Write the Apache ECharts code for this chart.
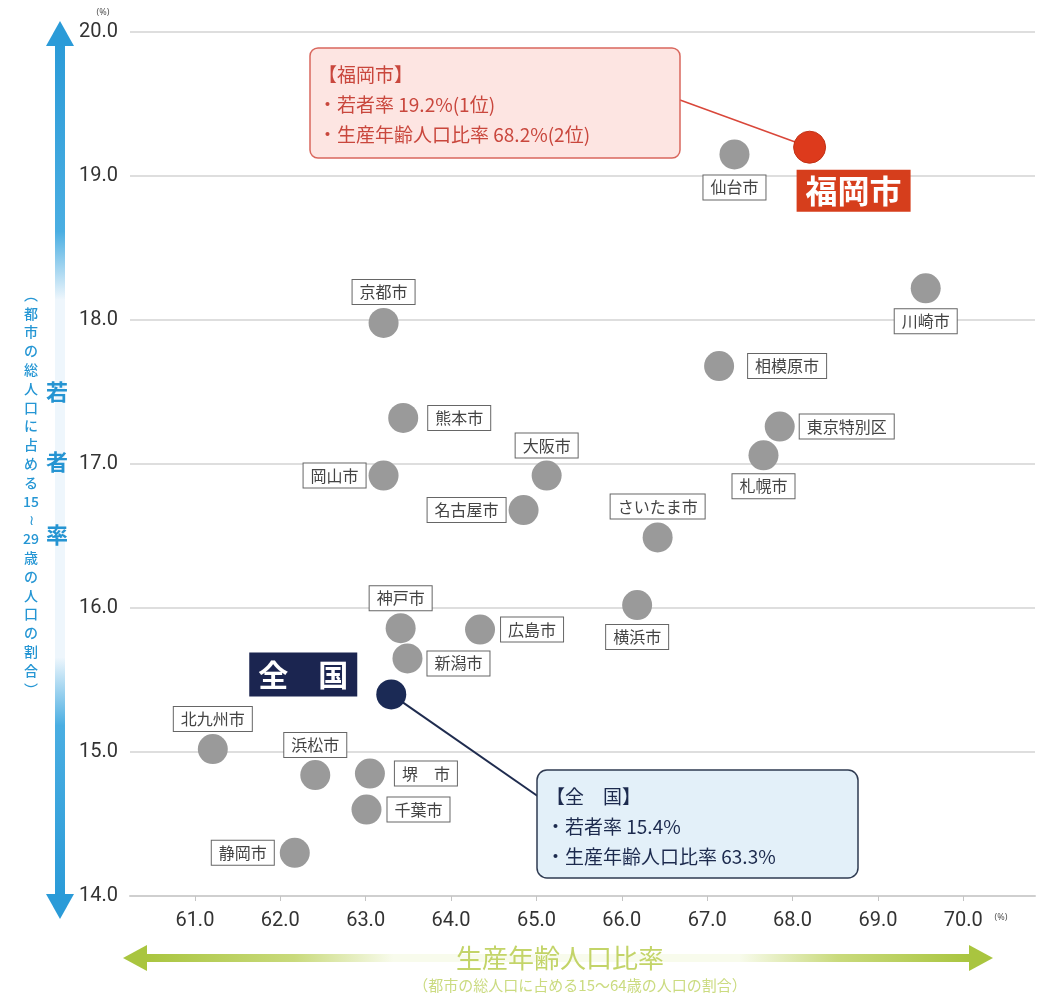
<!DOCTYPE html>
<html>
<head>
<meta charset="utf-8">
<script src="https://cdn.jsdelivr.net/npm/echarts@6/dist/echarts.min.js"></script>
<style>
  html, body { margin: 0; padding: 0; background: #ffffff; }
  #chart { width: 1044px; height: 994px; }
</style>
</head>
<body>
<div id="chart"></div>
<script>
// 政令指定都市ごとの生産年齢人口比率（x, %）と若者率（y, %）
const cityNames = ['仙台市', '川崎市', '京都市', '相模原市', '熊本市', '東京特別区', '札幌市', '岡山市', '大阪市', '名古屋市',
                   'さいたま市', '横浜市', '神戸市', '広島市', '新潟市', '北九州市', '浜松市', '堺　市', '千葉市', '静岡市'];
const cityWorkingAgeRate = [67.32, 69.56, 63.21, 67.14, 63.44, 67.85, 67.66, 63.21, 65.12, 64.85,
                            66.42, 66.18, 63.41, 64.34, 63.49, 61.21, 62.41, 63.05, 63.01, 62.17];
const cityYouthRate = [19.15, 18.22, 17.98, 17.68, 17.32, 17.26, 17.06, 16.92, 16.92, 16.68,
                       16.49, 16.02, 15.86, 15.85, 15.65, 15.02, 14.84, 14.85, 14.60, 14.30];

const fukuokaName = '福岡市';
const fukuokaWorkingAgeRate = 68.2;
const fukuokaYouthRate = 19.2;
const fukuokaYouthRank = 1;
const fukuokaWorkingAgeRank = 2;

const nationalName = '全　国';
const nationalWorkingAgeRate = 63.3;
const nationalYouthRate = 15.4;

const xTickValues = [61, 62, 63, 64, 65, 66, 67, 68, 69, 70];

const yTitle = '若者率';
const yNote = ['︵', '都', '市', 'の', '総', '人', '口', 'に', '占', 'め', 'る', '15', '≀', '29', '歳', 'の', '人', '口', 'の', '割', '合', '︶'];
const xTitle = '生産年齢人口比率';
const xNote = '（都市の総人口に占める15～64歳の人口の割合）';

// ラベルの置き場所（点に対する向きと間隔）
const labelPlacement = {
  '仙台市': { position: 'bottom', distance: 6 },
  '川崎市': { position: 'bottom', distance: 6 },
  '京都市': { position: 'top', distance: 4 },
  '相模原市': { position: 'right', distance: 14 },
  '熊本市': { position: 'right', distance: 10 },
  '東京特別区': { position: 'right', distance: 5 },
  '札幌市': { position: 'bottom', distance: 4 },
  '岡山市': { position: 'left', distance: 3 },
  '大阪市': { position: 'top', distance: 3 },
  '名古屋市': { position: 'left', distance: 3 },
  'さいたま市': { position: 'top', distance: 4 },
  '横浜市': { position: 'bottom', distance: 5 },
  '神戸市': { position: 'top', distance: 3 },
  '広島市': { position: 'right', distance: 6 },
  '新潟市': { position: 'right', distance: 5, offset: [0, 5] },
  '北九州市': { position: 'top', distance: 3 },
  '浜松市': { position: 'top', distance: 3 },
  '堺　市': { position: 'right', distance: 10 },
  '千葉市': { position: 'right', distance: 6 },
  '静岡市': { position: 'left', distance: 6 }
};

const CJK = '"Noto Sans CJK JP", "Noto Sans", sans-serif';
const NUM = 'Roboto, "Liberation Sans", sans-serif';

const cityData = cityNames.map((name, i) => ({
  name: name,
  value: [cityWorkingAgeRate[i], cityYouthRate[i]],
  label: Object.assign({}, labelPlacement[name])
}));

const chart = echarts.init(document.getElementById('chart'), null, { renderer: 'canvas' });

const option = {
  backgroundColor: '#ffffff',
  animation: false,
  grid: { left: 130, right: 9, top: 32, bottom: 98 },
  xAxis: {
    type: 'value',
    min: 60.24,
    max: 70.84,
    axisLine: { show: true, onZero: false, lineStyle: { color: '#cfcfcf', width: 2 } },
    axisTick: { show: true, customValues: xTickValues, length: 5, lineStyle: { color: '#c4c4c4' } },
    splitLine: { show: false },
    axisLabel: {
      customValues: xTickValues,
      formatter: v => v.toFixed(1),
      fontFamily: NUM, fontSize: 20, color: '#333333', margin: 15
    }
  },
  yAxis: {
    type: 'value',
    min: 14,
    max: 20,
    interval: 1,
    axisLine: { show: false },
    axisTick: { show: false },
    splitLine: { show: true, lineStyle: { color: '#dedede', width: 2 } },
    axisLabel: {
      formatter: v => v.toFixed(1),
      fontFamily: NUM, fontSize: 20, color: '#333333', margin: 12
    }
  },
  series: [
    {
      name: 'cities',
      type: 'scatter',
      symbolSize: 30,
      itemStyle: { color: '#9a9a9a', opacity: 1 },
      label: {
        show: true,
        formatter: p => p.name,
        fontFamily: CJK, fontSize: 16, color: '#444444',
        backgroundColor: '#ffffff',
        borderColor: '#666666', borderWidth: 1,
        padding: [3, 7], lineHeight: 18
      },
      emphasis: { disabled: true },
      data: cityData,
      z: 3
    },
    {
      name: 'national',
      type: 'scatter',
      symbolSize: 30,
      itemStyle: { color: '#1b2a55', opacity: 1 },
      label: {
        show: true,
        position: 'left',
        distance: 19,
        offset: [0, -20],
        formatter: p => p.name,
        fontFamily: CJK, fontSize: 30, fontWeight: 'bold', color: '#ffffff',
        backgroundColor: '#1b2550',
        padding: [6, 9], lineHeight: 32
      },
      emphasis: { disabled: true },
      data: [{ name: nationalName, value: [nationalWorkingAgeRate, nationalYouthRate] }],
      z: 4
    },
    {
      name: 'fukuoka',
      type: 'scatter',
      symbolSize: 32,
      itemStyle: { color: '#dd3a1c', borderColor: '#c23216', borderWidth: 1, opacity: 1 },
      label: {
        show: true,
        position: 'bottom',
        distance: 6,
        offset: [44, 0],
        formatter: p => p.name,
        fontFamily: CJK, fontSize: 32, fontWeight: 'bold', color: '#ffffff',
        backgroundColor: '#d63e1c',
        padding: [4, 9], lineHeight: 34
      },
      emphasis: { disabled: true },
      data: [{ name: fukuokaName, value: [fukuokaWorkingAgeRate, fukuokaYouthRate] }],
      z: 4
    }
  ]
};

chart.setOption(option);

// 軸の飾り・吹き出し
const fkPx = chart.convertToPixel({ gridIndex: 0 }, [fukuokaWorkingAgeRate, fukuokaYouthRate]);
const ntPx = chart.convertToPixel({ gridIndex: 0 }, [nationalWorkingAgeRate, nationalYouthRate]);

const blue = '#2b9bd8';
const green = '#a9c53f';

const graphics = [
  // 縦軸の矢印
  {
    type: 'rect', shape: { x: 55, y: 44, width: 10, height: 852 }, z: 1,
    style: {
      fill: new echarts.graphic.LinearGradient(0, 0, 0, 1, [
        { offset: 0, color: blue }, { offset: 0.22, color: '#4aaee2' },
        { offset: 0.3, color: '#eef6fc' }, { offset: 0.72, color: '#eef6fc' },
        { offset: 0.8, color: '#4aaee2' }, { offset: 1, color: blue }
      ])
    }
  },
  { type: 'polygon', shape: { points: [[60, 21], [46, 46], [74, 46]] }, style: { fill: blue }, z: 1 },
  { type: 'polygon', shape: { points: [[60, 919], [46, 894], [74, 894]] }, style: { fill: blue }, z: 1 },
  {
    type: 'text', x: 31, y: 285, z: 2,
    style: {
      text: yNote.join('\n'), fill: '#2596d4', font: '500 14px "Noto Sans CJK JP", sans-serif',
      textAlign: 'center', textVerticalAlign: 'top', lineHeight: 18.8
    }
  },
  ...yTitle.split('').map((ch, i) => ({
    type: 'text', x: 57, y: [392, 462, 535][i], z: 2,
    style: {
      text: ch, fill: '#2594d2', font: 'bold 22px "Noto Sans CJK JP", sans-serif',
      textAlign: 'center', textVerticalAlign: 'middle'
    }
  })),
  // 横軸の矢印
  {
    type: 'rect', shape: { x: 146, y: 954, width: 824, height: 8 }, z: 1,
    style: {
      fill: new echarts.graphic.LinearGradient(0, 0, 1, 0, [
        { offset: 0, color: green }, { offset: 0.18, color: '#c9da7c' },
        { offset: 0.3, color: '#f8fbec' }, { offset: 0.72, color: '#f8fbec' },
        { offset: 0.84, color: '#c9da7c' }, { offset: 1, color: green }
      ])
    }
  },
  { type: 'polygon', shape: { points: [[123, 958], [147, 945], [147, 971]] }, style: { fill: green }, z: 1 },
  { type: 'polygon', shape: { points: [[993, 958], [969, 945], [969, 971]] }, style: { fill: green }, z: 1 },
  {
    type: 'text', x: 560, y: 958, z: 2,
    style: {
      text: xTitle, fill: '#c3d468', font: '26px "Noto Sans CJK JP", sans-serif',
      textAlign: 'center', textVerticalAlign: 'middle'
    }
  },
  {
    type: 'text', x: 580, y: 985, z: 2,
    style: {
      text: xNote, fill: '#cbdb80', font: '15px "Noto Sans CJK JP", sans-serif',
      textAlign: 'center', textVerticalAlign: 'middle'
    }
  },
  // 単位
  { type: 'text', x: 103, y: 12, z: 2, style: { text: '(%)', fill: '#555', font: '9px "Noto Sans", sans-serif', textAlign: 'center', textVerticalAlign: 'middle' } },
  { type: 'text', x: 1001, y: 917, z: 2, style: { text: '(%)', fill: '#555', font: '9px "Noto Sans", sans-serif', textAlign: 'center', textVerticalAlign: 'middle' } },
  // 福岡市の吹き出し
  { type: 'line', shape: { x1: 680, y1: 100, x2: fkPx[0], y2: fkPx[1] }, style: { stroke: '#d9473a', lineWidth: 1.5 }, z: 1 },
  {
    type: 'rect', shape: { x: 310, y: 48, width: 370, height: 110, r: 8 }, z: 10,
    style: { fill: '#fde5e2', stroke: '#d9675d', lineWidth: 1.5 }
  },
  {
    type: 'text', x: 318, y: 60, z: 11,
    style: {
      text: `【${fukuokaName}】\n・若者率 ${fukuokaYouthRate.toFixed(1)}%(${fukuokaYouthRank}位)\n・生産年齢人口比率 ${fukuokaWorkingAgeRate.toFixed(1)}%(${fukuokaWorkingAgeRank}位)`,
      fill: '#c9473d', font: '19px "Noto Sans CJK JP", sans-serif', lineHeight: 30,
      textAlign: 'left', textVerticalAlign: 'top'
    }
  },
  // 全国の吹き出し
  { type: 'line', shape: { x1: ntPx[0], y1: ntPx[1], x2: 539, y2: 797 }, style: { stroke: '#1f2c4f', lineWidth: 2 }, z: 1 },
  {
    type: 'rect', shape: { x: 537, y: 770, width: 321, height: 108, r: 10 }, z: 10,
    style: { fill: '#e3f0f9', stroke: '#2f3b52', lineWidth: 1.5 }
  },
  {
    type: 'text', x: 546, y: 782, z: 11,
    style: {
      text: `【${nationalName}】\n・若者率 ${nationalYouthRate.toFixed(1)}%\n・生産年齢人口比率 ${nationalWorkingAgeRate.toFixed(1)}%`,
      fill: '#1c2a4e', font: '19px "Noto Sans CJK JP", sans-serif', lineHeight: 30,
      textAlign: 'left', textVerticalAlign: 'top'
    }
  }
];

chart.setOption({ graphic: graphics });
</script>
</body>
</html>
